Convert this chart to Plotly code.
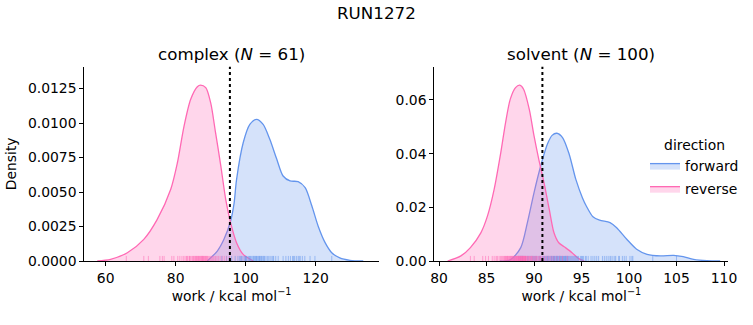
import plotly.graph_objects as go

# ---------------- data ----------------
# complex leg: KDE curves (work in kcal/mol, density)
cx_fwd_x = [89.0, 91.9, 93.8, 95.7, 96.7, 97.4, 99.3, 101.2, 103.1, 105.0, 106.9, 108.9,
            110.7, 112.7, 115.0, 117.0, 118.9, 120.7, 122.7, 124.6, 126.9, 129.8, 133.6]
cx_fwd_d = [0.0, 0.00072, 0.00157, 0.0029, 0.0042, 0.0059, 0.00857, 0.0099, 0.01027,
            0.0099, 0.00882, 0.00737, 0.00616, 0.0058, 0.00575, 0.00531, 0.0040, 0.00254,
            0.00133, 0.0006, 0.00022, 0.00005, 0.0]
cx_rev_x = [57.6, 61.4, 66.2, 70.9, 74.7, 78.6, 80.5, 82.4, 84.3, 86.2, 87.1, 88.6, 90.0,
            91.4, 92.9, 94.3, 95.7, 97.4, 99.3, 102.2]
cx_rev_d = [0.0, 0.00012, 0.0006, 0.00157, 0.0030, 0.0052, 0.00712, 0.00978, 0.01172,
            0.01263, 0.01275, 0.01256, 0.01147, 0.0093, 0.0069, 0.00447, 0.00278, 0.00133,
            0.00048, 0.0]

# solvent leg: KDE curves
sv_fwd_x = [86.4, 87.5, 88.6, 89.3, 90.0, 90.7, 91.4, 91.9, 92.4, 93.0, 93.7, 94.4, 95.1,
            95.5, 96.2, 96.9, 98.0, 98.7, 99.76, 100.8, 101.9, 103.3, 104.7, 105.7, 106.8,
            108.2, 109.6]
sv_fwd_d = [0.0, 0.0004, 0.0050, 0.0143, 0.0255, 0.0354, 0.0435, 0.0468, 0.0476, 0.0460,
            0.0398, 0.0304, 0.0235, 0.0205, 0.0165, 0.0152, 0.0143, 0.0124, 0.0081, 0.0044,
            0.0025, 0.0019, 0.0021, 0.0016, 0.0006, 0.0001, 0.0]
sv_rev_x = [80.9, 82.3, 83.3, 84.4, 85.1, 85.8, 86.5, 87.0, 87.5, 88.05, 88.5, 88.9, 89.5,
            90.0, 90.5, 91.05, 91.6, 92.1, 92.6, 93.3, 94.0, 94.7, 95.3]
sv_rev_d = [0.0, 0.0019, 0.0050, 0.0105, 0.0168, 0.0267, 0.0404, 0.0515, 0.0603, 0.0646,
            0.0655, 0.0640, 0.0565, 0.0466, 0.0379, 0.0292, 0.0193, 0.0105, 0.0068, 0.0050,
            0.0031, 0.0009, 0.0]

# rug samples (individual work values)
cx_fwd_w = [93.2, 94.5, 95.3, 96.0, 97.0, 97.8, 98.3, 98.8, 99.2, 99.6, 100.0, 100.4, 100.8,
            101.1, 101.5, 101.8, 102.1, 102.5, 102.8, 103.1, 103.4, 103.7, 104.0, 104.3,
            104.7, 105.0, 105.4, 105.8, 106.2, 106.6, 107.0, 107.5, 108.0, 108.6, 109.3,
            110.7, 112.2, 112.8, 113.4, 114.0, 114.5, 115.0, 115.6, 116.2, 116.9, 118.4,
            119.8, 124.6, 100.2, 101.3, 102.3, 103.0, 103.9, 104.5, 105.2, 99.9, 98.6,
            113.7, 115.3, 107.8, 111.5]
cx_rev_w = [65.9, 70.9, 72.2, 75.5, 76.2, 76.7, 78.9, 79.5, 80.6, 81.2, 81.8, 82.3, 82.7,
            83.1, 83.5, 83.9, 84.2, 84.6, 84.9, 85.2, 85.5, 85.8, 86.0, 86.3, 86.5, 86.8,
            87.0, 87.2, 87.5, 87.7, 87.9, 88.2, 88.4, 88.7, 88.9, 89.2, 89.5, 89.8, 90.1,
            90.4, 90.7, 91.0, 91.4, 91.8, 92.2, 92.7, 93.3, 93.9, 94.6, 95.4, 83.3, 84.0,
            85.0, 86.1, 87.3, 88.0, 89.0, 86.6, 85.6, 88.5, 87.6]
sv_fwd_w = [87.9, 88.4, 88.8, 89.1, 89.4, 89.6, 89.9, 90.1, 90.3, 90.5, 90.7, 90.9, 91.0,
            91.2, 91.3, 91.5, 91.6, 91.8, 91.9, 92.0, 92.1, 92.2, 92.3, 92.4, 92.5, 92.6,
            92.7, 92.8, 92.9, 93.0, 93.1, 93.2, 93.3, 93.4, 93.5, 93.6, 93.8, 93.9, 94.1,
            94.3, 94.5, 94.7, 94.9, 95.1, 95.4, 95.7, 96.0, 96.4, 96.8, 97.2, 97.6, 98.0,
            98.3, 98.6, 98.9, 99.3, 99.7, 100.1, 100.4, 102.5, 105.0, 91.4, 91.7, 92.05,
            92.35, 92.65, 92.95, 93.25, 93.55, 90.6, 90.2, 89.8, 94.0, 94.4, 95.2, 96.2,
            97.4, 98.1, 99.0, 91.1, 91.45, 91.85, 92.15, 92.45, 92.75, 93.05, 93.35, 93.7,
            94.2, 94.6, 95.0, 95.5, 96.6, 97.8, 98.5, 99.5, 90.0, 89.3, 88.6, 100.3]
sv_rev_w = [83.3, 83.7, 84.6, 84.9, 85.6, 85.8, 86.0, 86.2, 86.4, 86.6, 86.7, 86.9, 87.0,
            87.1, 87.2, 87.3, 87.4, 87.5, 87.6, 87.7, 87.75, 87.8, 87.85, 87.9, 87.95, 88.0,
            88.05, 88.1, 88.15, 88.2, 88.25, 88.3, 88.35, 88.4, 88.45, 88.5, 88.55, 88.6,
            88.65, 88.7, 88.75, 88.8, 88.85, 88.9, 88.95, 89.0, 89.05, 89.1, 89.15, 89.2,
            89.3, 89.4, 89.5, 89.6, 89.7, 89.8, 89.9, 90.0, 90.1, 90.2, 90.35, 90.5, 90.65,
            90.8, 90.95, 91.1, 91.3, 91.5, 91.7, 91.9, 92.1, 92.4, 92.7, 93.0, 93.5, 86.1,
            86.5, 86.8, 87.15, 87.45, 87.65, 88.12, 88.32, 88.52, 88.72, 88.92, 89.12,
            89.35, 89.55, 89.75, 87.55, 87.25, 86.95, 88.42, 88.62, 88.82, 89.02, 90.25,
            90.6, 85.2]

cx_mean = 95.5   # dotted reference line, complex
sv_mean = 90.88  # dotted reference line, solvent

titles = ["complex (<i>N</i> = 61)", "solvent (<i>N</i> = 100)"]
suptitle = "RUN1272"
xlabel = "work / kcal mol<sup>\u22121</sup>"
ylabel = "Density"

BLUE = "#6495ED"
PINK = "#FF69B4"
BLUE_FILL = "rgba(100,149,237,0.27)"
PINK_FILL = "rgba(255,105,180,0.27)"
BLUE_RUG = "rgba(100,149,237,0.55)"
PINK_RUG = "rgba(255,105,180,0.55)"

FONT = "DejaVu Sans"

cx_yrange = [0, 0.01408]
sv_yrange = [0, 0.0724]


def rug(vals, h):
    xs, ys = [], []
    for v in vals:
        xs += [v, v, None]
        ys += [0, h, None]
    return xs, ys


fig = go.Figure()

panels = [
    ("x", "y", cx_fwd_x, cx_fwd_d, cx_rev_x, cx_rev_d, cx_fwd_w, cx_rev_w, cx_yrange, False),
    ("x2", "y2", sv_fwd_x, sv_fwd_d, sv_rev_x, sv_rev_d, sv_fwd_w, sv_rev_w, sv_yrange, True),
]

for xa, ya, fx, fd, rx, rd, fw, rw, yr, show in panels:
    fig.add_trace(go.Scatter(x=fx, y=fd, xaxis=xa, yaxis=ya, mode="lines",
                             line=dict(color=BLUE, width=1.3, shape="spline", smoothing=0.8),
                             fill="toself", fillcolor=BLUE_FILL, name="forward",
                             legendgroup="forward", showlegend=show))
    fig.add_trace(go.Scatter(x=rx, y=rd, xaxis=xa, yaxis=ya, mode="lines",
                             line=dict(color=PINK, width=1.3, shape="spline", smoothing=0.8),
                             fill="toself", fillcolor=PINK_FILL, name="reverse",
                             legendgroup="reverse", showlegend=show))
    h = 0.026 * yr[1]
    rxs, rys = rug(fw, h)
    fig.add_trace(go.Scatter(x=rxs, y=rys, xaxis=xa, yaxis=ya, mode="lines",
                             line=dict(color=BLUE_RUG, width=1), showlegend=False,
                             hoverinfo="skip"))
    rxs, rys = rug(rw, h)
    fig.add_trace(go.Scatter(x=rxs, y=rys, xaxis=xa, yaxis=ya, mode="lines",
                             line=dict(color=PINK_RUG, width=1), showlegend=False,
                             hoverinfo="skip"))

# dotted vertical lines
for xr, yr_, xv in [("x", "y domain", cx_mean), ("x2", "y2 domain", sv_mean)]:
    fig.add_shape(type="line", xref=xr, yref=yr_, x0=xv, x1=xv, y0=0, y1=1,
                  line=dict(color="black", width=2, dash="dot"))

axis_common = dict(showline=True, linecolor="black", linewidth=1, ticks="outside",
                   ticklen=4, tickwidth=1, tickcolor="black", showgrid=False,
                   zeroline=False, automargin=False,
                   tickfont=dict(size=13.9, color="black"))

ydom = [1 - 261 / 325, 1 - 66.7 / 325]
fig.update_layout(
    width=753, height=325,
    margin=dict(l=0, r=0, t=0, b=0, autoexpand=False),
    paper_bgcolor="white", plot_bgcolor="white",
    font=dict(family=FONT, color="black", size=13.9),
    xaxis=dict(domain=[84.3 / 753, 379 / 753], range=[53.9, 138.1], dtick=20, tick0=0,
               title=dict(text=xlabel, font=dict(size=13.9), standoff=6), **axis_common),
    yaxis=dict(domain=ydom, range=cx_yrange, dtick=0.0025, tickformat=".4f",
               title=dict(text=ylabel, font=dict(size=13.9), standoff=8), **axis_common),
    xaxis2=dict(domain=[434.3 / 753, 728.3 / 753], range=[79.5, 110.45], dtick=5, tick0=0,
                anchor="y2",
                title=dict(text=xlabel, font=dict(size=13.9), standoff=6), **axis_common),
    yaxis2=dict(domain=ydom, range=sv_yrange, dtick=0.02, tickformat=".2f", anchor="x2",
                **axis_common),
    legend=dict(x=645 / 753, y=1 - 132 / 325, xanchor="left", yanchor="top",
                title=dict(text="direction", side="top center", font=dict(size=13.9)),
                font=dict(size=13.9), bgcolor="rgba(0,0,0,0)", tracegroupgap=2,
                itemwidth=30),
    showlegend=True,
    annotations=[
        dict(text=suptitle, x=0.5, y=1 - 13 / 325, xref="paper", yref="paper",
             showarrow=False, font=dict(size=16.7), xanchor="center", yanchor="middle"),
        dict(text=titles[0], x=(84.3 + 379) / 2 / 753, y=1 - 54 / 325, xref="paper",
             yref="paper", showarrow=False, font=dict(size=16.7), xanchor="center",
             yanchor="middle"),
        dict(text=titles[1], x=(434.3 + 728.3) / 2 / 753, y=1 - 54 / 325, xref="paper",
             yref="paper", showarrow=False, font=dict(size=16.7), xanchor="center",
             yanchor="middle"),
    ],
)

fig.write_html("out.html")
